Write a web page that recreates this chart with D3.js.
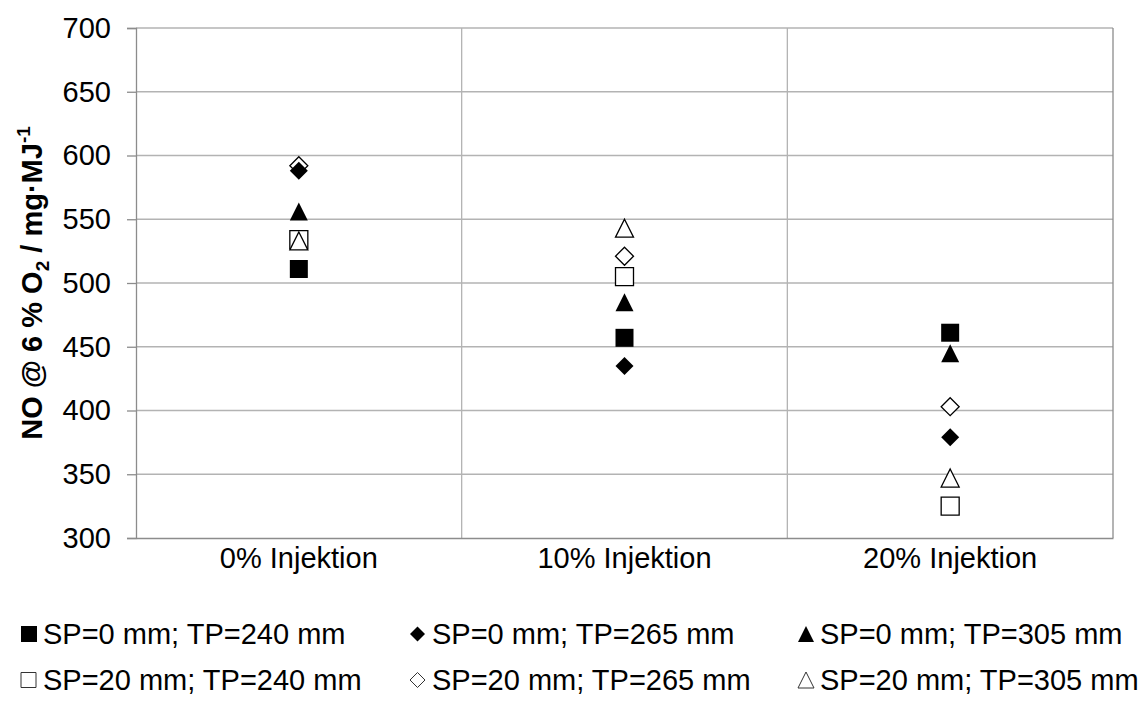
<!DOCTYPE html>
<html>
<head>
<meta charset="utf-8">
<script src="https://cdn.jsdelivr.net/npm/d3@7"></script>
<style>
  body { margin: 0; background: #fff; }
  svg { display: block; font-family: "Liberation Sans", Arial, sans-serif; }
</style>
</head>
<body>
<div id="chart"></div>
<script>
// data
const categories = ['0% Injektion', '10% Injektion', '20% Injektion'];
const seriesNames = [
  'SP=0 mm; TP=240 mm', 'SP=0 mm; TP=265 mm', 'SP=0 mm; TP=305 mm',
  'SP=20 mm; TP=240 mm', 'SP=20 mm; TP=265 mm', 'SP=20 mm; TP=305 mm'
];
const sp0tp240 = [511, 457, 461];
const sp0tp265 = [588, 435, 379];
const sp0tp305 = [556, 485, 445];
const sp20tp240 = [534, 505, 325];
const sp20tp265 = [592, 521, 403];
const sp20tp305 = [533, 543, 347];
const yTicks = [300, 350, 400, 450, 500, 550, 600, 650, 700];

const w = 1143, h = 702;
const margin = {left: 136, right: 30, top: 28, bottom: 164};

// marker shapes centred on their bounding box (size = width in px)
const sq = {draw(ctx, s) { const r = s / 2; ctx.rect(-r, -r, s, s); }};
const dia = {draw(ctx, s) { const r = s / 2; ctx.moveTo(0, -r); ctx.lineTo(r, 0); ctx.lineTo(0, r); ctx.lineTo(-r, 0); ctx.closePath(); }};
const tri = {draw(ctx, s) { const r = s / 2; ctx.moveTo(0, -r); ctx.lineTo(r, r); ctx.lineTo(-r, r); ctx.closePath(); }};

const series = [
  {name: seriesNames[0], values: sp0tp240, type: sq, fill: '#000', size: 18, lsize: 16},
  {name: seriesNames[1], values: sp0tp265, type: dia, fill: '#000', size: 18, lsize: 15},
  {name: seriesNames[2], values: sp0tp305, type: tri, fill: '#000', size: 18, lsize: 16},
  {name: seriesNames[3], values: sp20tp240, type: sq, fill: '#fff', size: 18, lsize: 15},
  {name: seriesNames[4], values: sp20tp265, type: dia, fill: '#fff', size: 18, lsize: 15},
  {name: seriesNames[5], values: sp20tp305, type: tri, fill: '#fff', size: 18, lsize: 16}
];

const svg = d3.select('#chart').append('svg').attr('width', w).attr('height', h);

const x = d3.scaleBand().domain(categories).range([margin.left, w - margin.right]);
const y = d3.scaleLinear().domain([300, 700]).range([h - margin.bottom, margin.top]);

// horizontal gridlines
svg.append('g').selectAll('line').data(yTicks.slice(1)).enter().append('line')
  .attr('x1', margin.left).attr('x2', w - margin.right)
  .attr('y1', d => y(d)).attr('y2', d => y(d))
  .attr('stroke', '#b3b3b3').attr('stroke-width', 1.3);

// vertical gridlines at category boundaries
svg.append('g').selectAll('line').data(categories.slice(1)).enter().append('line')
  .attr('x1', d => x(d)).attr('x2', d => x(d))
  .attr('y1', margin.top).attr('y2', h - margin.bottom)
  .attr('stroke', '#b3b3b3').attr('stroke-width', 1.3);
svg.append('line')
  .attr('x1', w - margin.right).attr('x2', w - margin.right)
  .attr('y1', margin.top).attr('y2', h - margin.bottom)
  .attr('stroke', '#8c8c8c').attr('stroke-width', 1.3);

// y axis
const yAxis = d3.axisLeft(y).tickValues(yTicks).tickSize(9).tickPadding(16);
const gy = svg.append('g').attr('transform', `translate(${margin.left},0)`).call(yAxis);
gy.select('.domain').attr('stroke', '#8c8c8c').attr('stroke-width', 1.3);
gy.selectAll('.tick line').attr('stroke', '#8c8c8c').attr('stroke-width', 1.3);
gy.selectAll('.tick text').attr('font-size', 29).attr('fill', '#000')
  .attr('font-family', '"Liberation Sans", Arial, sans-serif');

// x axis
const xAxis = d3.axisBottom(x).tickSize(0).tickPadding(9);
const gx = svg.append('g').attr('transform', `translate(0,${h - margin.bottom})`).call(xAxis);
gx.select('.domain').attr('stroke', '#8c8c8c').attr('stroke-width', 1.3);
gx.selectAll('.tick text').attr('font-size', 29).attr('fill', '#000')
  .attr('font-family', '"Liberation Sans", Arial, sans-serif');

// y title
const title = svg.append('text')
  .attr('transform', `translate(42,${(margin.top + h - margin.bottom) / 2}) rotate(-90)`)
  .attr('text-anchor', 'middle').attr('font-weight', 'bold').attr('font-size', 29);
title.append('tspan').text('NO @ 6 % O');
title.append('tspan').attr('font-size', 19).attr('dy', 7).text('2');
title.append('tspan').attr('dy', -7).text(' / mg·MJ');
title.append('tspan').attr('font-size', 19).attr('dy', -12).text('-1');

// markers: open ones first so the filled ones sit on top where they overlap
const drawOrder = [3, 4, 5, 0, 1, 2];
drawOrder.forEach(k => {
  const s = series[k];
  const sym = d3.symbol().type(s.type).size(s.size);
  svg.append('g').selectAll('path').data(s.values).enter().append('path')
    .attr('d', sym)
    .attr('transform', (d, i) => `translate(${x(categories[i]) + x.bandwidth() / 2},${y(d)})`)
    .attr('fill', s.fill).attr('stroke', '#000').attr('stroke-width', s.fill === '#fff' ? 1.3 : 0);
});

// legend: 3 columns, 2 rows
const legX = [21, 410, 798];
const legY = [634, 680];
const leg = svg.append('g').selectAll('g').data(series).enter().append('g')
  .attr('transform', (d, i) => `translate(${legX[i % 3]},${legY[Math.floor(i / 3)]})`);
leg.append('path')
  .attr('d', d => d3.symbol().type(d.type).size(d.lsize)())
  .attr('transform', d => `translate(${d.lsize / 2},0)`)
  .attr('fill', d => d.fill).attr('stroke', d => d.fill === '#fff' ? '#333' : 'none').attr('stroke-width', 1);
leg.append('text')
  .attr('x', 22).attr('y', 10)
  .attr('font-size', 29)
  .text(d => d.name);
</script>
</body>
</html>
